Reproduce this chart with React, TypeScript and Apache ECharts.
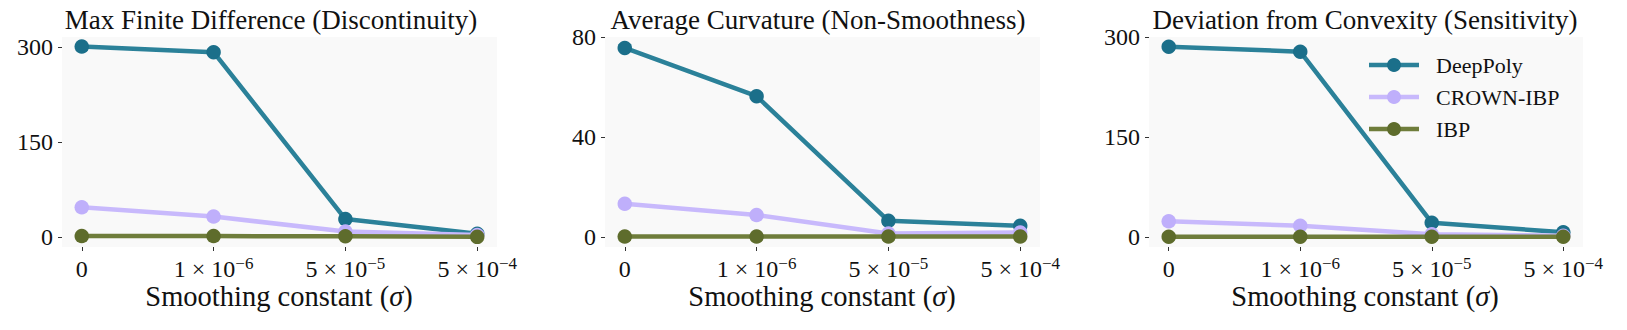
import React, { useEffect, useRef } from "react";
import * as echarts from "echarts";

const xTickLabels = ["0", "1e-6", "5e-5", "5e-4"];
const seriesNames = ["DeepPoly", "CROWN-IBP", "IBP"];
const panelTitles = [
  "Max Finite Difference (Discontinuity)",
  "Average Curvature (Non-Smoothness)",
  "Deviation from Convexity (Sensitivity)",
];
const yTicks1 = [0, 150, 300];
const yTicks2 = [0, 40, 80];
const yTicks3 = [0, 150, 300];

const deepPoly1 = [301, 292, 29, 6];
const crown1 = [47.6, 33, 9.4, 4];
const ibp1 = [2.2, 2.2, 2, 1];

const deepPoly2 = [75.6, 56.3, 6.4, 4.4];
const crown2 = [13.2, 8.7, 1.3, 1.7];
const ibp2 = [0.1, 0.1, 0.1, 0.1];

const deepPoly3 = [285.5, 278, 21.5, 7];
const crown3 = [23.5, 17, 4, 2];
const ibp3 = [0.5, 0.5, 0.5, 0.5];

const FONT = "'Liberation Serif', 'DejaVu Serif', serif";

export default function App() {
  const ref = useRef<HTMLDivElement>(null);
  useEffect(() => {
    if (!ref.current) return;
    const chart = echarts.init(ref.current, undefined, { renderer: "svg" });

    const lineColors = ["#2b8199", "#c8b9fc", "#6f7d3b"];
    const markerColors = ["#1b6f8a", "#bfaffb", "#5e6c2c"];
    const panels = [
      { data: [deepPoly1, crown1, ibp1], ticks: yTicks1, min: -15, max: 316 },
      { data: [deepPoly2, crown2, ibp2], ticks: yTicks2, min: -4.1, max: 80 },
      { data: [deepPoly3, crown3, ibp3], ticks: yTicks3, min: -15, max: 300 },
    ];
    const grids = [
      { left: 62, top: 37, width: 435, height: 210 },
      { left: 605, top: 37, width: 435, height: 210 },
      { left: 1149, top: 37, width: 434, height: 210 },
    ];
    const titleCenters = [271, 818, 1365];
    const nameCenters = [279, 822, 1365];
    const legendX = 1369;
    const legendY = 65;
    const legendRow = 32;

    const fmtX = (v: number) => {
      const s = xTickLabels[Math.round(v)];
      if (!s) return "";
      if (!s.includes("e")) return "{b|" + s + "}";
      const [m, e] = s.split("e");
      return "{b|" + m + "}{x|×}{b|10}{s|" + e.replace("-", "−") + "}";
    };

    const legendItems = seriesNames.map((name, k) => ({
      type: "group",
      x: legendX,
      y: legendY + k * legendRow,
      z: 100,
      children: [
        {
          type: "line",
          shape: { x1: 0, y1: 0, x2: 50, y2: 0 },
          style: { stroke: lineColors[k], lineWidth: 4.5 },
        },
        {
          type: "circle",
          shape: { cx: 25, cy: 0, r: 7 },
          style: { fill: markerColors[k] },
        },
        {
          type: "text",
          x: 67,
          y: 0,
          style: {
            text: name,
            fontFamily: FONT,
            fontSize: 22,
            fill: "#111",
            textAlign: "left",
            textVerticalAlign: "middle",
          },
        },
      ],
    }));

    const option: any = {
      animation: false,
      backgroundColor: "#ffffff",
      grid: grids.map((g) => ({
        ...g,
        show: true,
        backgroundColor: "#f9f9f9",
        borderWidth: 0,
      })),
      xAxis: grids.map((_, i) => ({
        type: "value",
        gridIndex: i,
        min: -0.15,
        max: 3.15,
        axisLine: { show: false, onZero: false },
        splitLine: { show: false },
        axisTick: {
          show: true,
          length: 4,
          lineStyle: { color: "#333" },
          customValues: [0, 1, 2, 3],
        },
        axisLabel: {
          customValues: [0, 1, 2, 3],
          margin: 8,
          formatter: fmtX,
          rich: {
            b: { fontFamily: FONT, fontSize: 24, color: "#111", lineHeight: 28 },
            x: {
              fontFamily: FONT,
              fontSize: 24,
              color: "#111",
              lineHeight: 28,
              padding: [0, 6, 0, 6],
            },
            s: {
              fontFamily: FONT,
              fontSize: 17,
              color: "#111",
              lineHeight: 17,
              verticalAlign: "top",
            },
          },
        },
      })),
      yAxis: panels.map((p, i) => ({
        type: "value",
        gridIndex: i,
        min: p.min,
        max: p.max,
        axisLine: { show: false, onZero: false },
        splitLine: { show: false },
        axisTick: {
          show: true,
          length: 4,
          lineStyle: { color: "#333" },
          customValues: p.ticks,
        },
        axisLabel: {
          customValues: p.ticks,
          margin: 9,
          fontFamily: FONT,
          fontSize: 24,
          color: "#111",
        },
      })),
      series: panels.flatMap((p, i) =>
        p.data.map((vals, k) => ({
          name: seriesNames[k],
          type: "line",
          xAxisIndex: i,
          yAxisIndex: i,
          data: vals.map((v, j) => [j, v]),
          symbol: "circle",
          symbolSize: 14.5,
          z: 2 + k,
          lineStyle: { color: lineColors[k], width: 4.5 },
          itemStyle: { color: markerColors[k] },
        }))
      ),
      graphic: [
        ...panelTitles.map((t, i) => ({
          type: "text",
          x: titleCenters[i],
          y: 20,
          style: {
            text: t,
            fontFamily: FONT,
            fontSize: 27,
            fill: "#111",
            textAlign: "center",
            textVerticalAlign: "middle",
          },
        })),
        ...nameCenters.map((c) => ({
          type: "text",
          x: c,
          y: 296,
          style: {
            text: "{a|Smoothing constant (}{i|σ}{a|)}",
            textAlign: "center",
            textVerticalAlign: "middle",
            rich: {
              a: { fontFamily: FONT, fontSize: 28.5, fill: "#111" },
              i: { fontFamily: FONT, fontSize: 28.5, fontStyle: "italic", fill: "#111" },
            },
          },
        })),
        ...legendItems,
      ],
    };
    chart.setOption(option);
    return () => chart.dispose();
  }, []);
  return (
    <div
      ref={ref}
      style={{ position: "fixed", left: 0, top: 0, width: 1627, height: 330 }}
    />
  );
}
